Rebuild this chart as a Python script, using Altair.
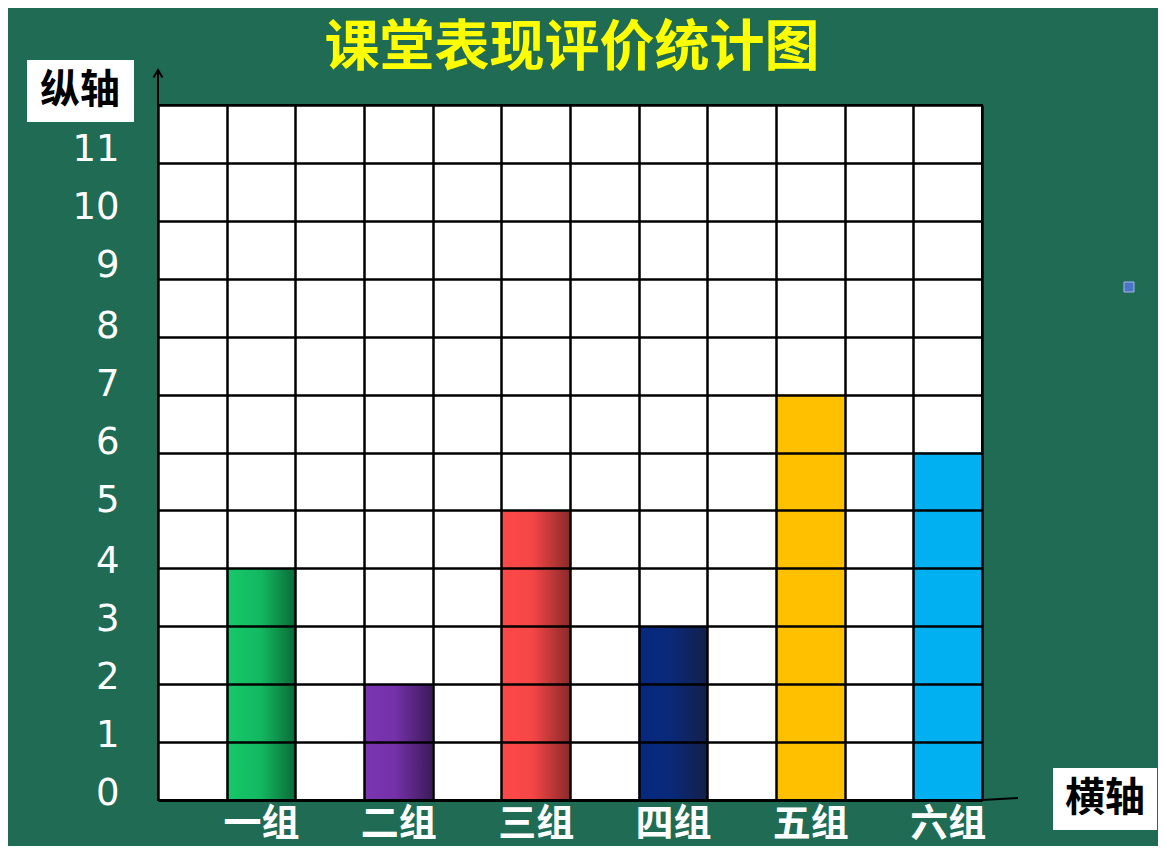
import json
import altair as alt
import pandas as pd

# ---- data ----
groups = ["一组", "二组", "三组", "四组", "五组", "六组"]
values = [4, 2, 5, 3, 7, 6]
y_tick_values = list(range(13))          # grid lines 0..12, labels 0..11
x_grid_values = list(range(13))          # 12 columns
title_text = "课堂表现评价统计图"
axis_names = ["纵轴", "横轴"]

bar_fills = [
    [("#16c96a", 0), ("#13b860", 0.5), ("#0b6a38", 1)],
    [("#7b35b2", 0), ("#7431a9", 0.45), ("#3d1a5a", 1)],
    [("#ff4848", 0), ("#f54646", 0.45), ("#8a2a2a", 1)],
    [("#05297f", 0), ("#0a297a", 0.45), ("#13204a", 1)],
    [("#ffc000", 0), ("#ffc000", 1)],
    [("#00b0f0", 0), ("#00b0f0", 1)],
]

df = pd.DataFrame({
    "group": groups,
    "value": values,
    "start": [2 * i + 1 for i in range(len(groups))],
    "end": [2 * i + 2 for i in range(len(groups))],
})

W, H = 824, 695

xscale = alt.Scale(domain=[0, 12], nice=False, zero=False, padding=0)
yscale = alt.Scale(domain=[0, 12], nice=False, padding=0)

label_expr_x = ("datum.value % 2 == 1 ? " + json.dumps(groups, ensure_ascii=False)
                + "[(datum.value - 1) / 2] : ''")

xaxis = alt.Axis(values=x_grid_values, grid=True, gridColor="black", gridWidth=2.5,
                 gridOpacity=1, ticks=False, domain=True, domainColor="black",
                 domainWidth=3, labelExpr=label_expr_x, labelOffset=W / 24,
                 labelPadding=5, labelFontSize=38, labelFont="Noto Sans CJK SC",
                 labelFontWeight="bold", labelColor="white", labelOverlap=False,
                 labelFlush=False, labelBound=False, labelBaseline="top",
                 labelAlign="center", title=None, zindex=1)

yaxis = alt.Axis(values=y_tick_values, grid=True, gridColor="black", gridWidth=2.5,
                 gridOpacity=1, ticks=False, domain=False,
                 labelExpr="datum.value < 12 ? datum.label : ''",
                 labelAlign="right", labelBaseline="middle", labelPadding=39,
                 labelFont="DejaVu Sans", labelFontSize=37, labelColor="white",
                 labelOverlap=False, labelFlush=False, labelBound=False,
                 labelOffset={"condition": [
                     {"test": "datum.value >= 9", "value": -13},
                     {"test": "datum.value >= 5", "value": -10},
                 ], "value": -7},
                 title=None, zindex=1)

layers = []
for g, stops in zip(groups, bar_fills):
    fill = alt.LinearGradient(
        gradient="linear",
        stops=[alt.GradientStop(color=c, offset=o) for c, o in stops],
        x1=0, x2=1, y1=0, y2=0,
    )
    layers.append(
        alt.Chart(df).transform_filter(alt.datum.group == g)
        .mark_bar(color=fill)
        .encode(
            x=alt.X("start:Q", scale=xscale, axis=xaxis),
            x2="end:Q",
            y=alt.Y("value:Q", scale=yscale, axis=yaxis),
            y2=alt.datum(0),
        )
    )

dummy = pd.DataFrame({"t": [title_text]})
names_df = pd.DataFrame({"name": axis_names})

# y-axis arrow
arrow_line = alt.Chart(dummy).mark_rule(color="black", strokeWidth=2).encode(
    x=alt.value(0), y=alt.value(-35), y2=alt.value(0))
arrow_head = alt.Chart(dummy).mark_point(
    shape="M-0.6,1L0,0L0.6,1", filled=False, color="black", strokeWidth=2,
    size=220, opacity=1).encode(x=alt.value(0), y=alt.value(-35))
# x-axis extension
x_ext = alt.Chart(dummy).mark_rule(color="black", strokeWidth=2).encode(
    x=alt.value(W), x2=alt.value(W + 36), y=alt.value(H), y2=alt.value(H - 2))

title = alt.Chart(dummy).mark_text(
    font="Noto Sans CJK SC", fontSize=55, fontWeight="bold", color="#ffff00",
    align="center", baseline="middle").encode(
    x=alt.value(414), y=alt.value(-57), text="t:N")

# axis name boxes
box_y = alt.Chart(names_df).transform_filter(alt.datum.name == axis_names[0]).mark_rect(
    color="white").encode(x=alt.value(-131), x2=alt.value(-24),
                          y=alt.value(-45), y2=alt.value(17))
txt_y = alt.Chart(names_df).transform_filter(alt.datum.name == axis_names[0]).mark_text(
    font="Noto Sans CJK SC", fontSize=40, fontWeight="bold", color="black",
    align="center", baseline="middle").encode(
    x=alt.value(-78), y=alt.value(-14), text="name:N")
box_x = alt.Chart(names_df).transform_filter(alt.datum.name == axis_names[1]).mark_rect(
    color="white").encode(x=alt.value(895), x2=alt.value(999),
                          y=alt.value(663), y2=alt.value(725))
txt_x = alt.Chart(names_df).transform_filter(alt.datum.name == axis_names[1]).mark_text(
    font="Noto Sans CJK SC", fontSize=40, fontWeight="bold", color="black",
    align="center", baseline="middle").encode(
    x=alt.value(947), y=alt.value(694), text="name:N")

# small blue marker on the board
marker = alt.Chart(dummy).mark_rect(color="#4a74c8", stroke="#9fb8e8", strokeWidth=1).encode(
    x=alt.value(966), x2=alt.value(976), y=alt.value(177), y2=alt.value(187))

chart = alt.layer(
    *layers, arrow_line, arrow_head, x_ext, title, box_y, txt_y, box_x, txt_x, marker
).properties(
    width=W, height=H,
    autosize=alt.AutoSizeParams(type="none"),
    padding={"left": 150, "top": 97, "right": 176, "bottom": 46},
    background="#206b54",
).configure_view(fill="white", stroke="black", strokeWidth=2)

chart.save("out.html", embed_options={"renderer": "svg", "actions": False})
